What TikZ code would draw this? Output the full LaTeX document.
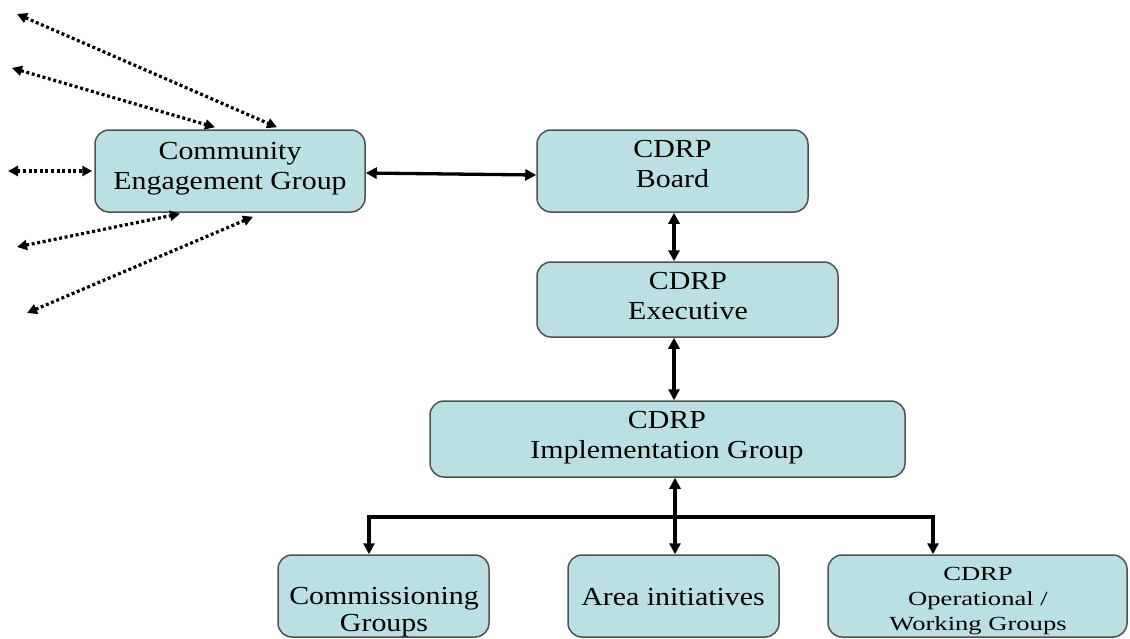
\documentclass[tikz,border=0pt]{standalone}
\usepackage{fontspec}
\usepackage{graphicx}
\setmainfont{Liberation Serif}
\usetikzlibrary{arrows.meta}
\definecolor{boxfill}{RGB}{186,224,228}
\definecolor{boxline}{RGB}{80,80,80}
\newcommand{\wid}[1]{\scalebox{1.15}[1]{#1}}
\newcommand{\widop}[1]{\scalebox{1.33}[1]{#1}}
\tikzset{
  box/.style={draw=boxline, line width=1.5pt, fill=boxfill, rounded corners=14pt, inner sep=0pt},
  lbl/.style={inner sep=0pt, align=center, anchor=north, font=\fontsize{26}{30}\selectfont},
  lblsmall/.style={inner sep=0pt, align=center, anchor=north, font=\fontsize{20}{25}\selectfont},
  conn/.style={line width=3.3pt, line join=miter, {Triangle[length=11pt,width=11pt]}-{Triangle[length=11pt,width=11pt]}},
  dots/.style={line width=3.2pt, dash pattern=on 3pt off 2.6pt, {Triangle[length=10pt,width=10pt]}-{Triangle[length=10pt,width=10pt]}}
}
\begin{document}
\begin{tikzpicture}[x=1pt,y=-1pt]
\clip (0,0) rectangle (1130,638);
% boxes
\node[box, minimum width=270pt, minimum height=82pt] (ceg) at (230,171) {};
\node[box, minimum width=271pt, minimum height=82pt] (board) at (672.5,171) {};
\node[box, minimum width=301pt, minimum height=75pt] (exec) at (687.5,299.5) {};
\node[box, minimum width=475pt, minimum height=76pt] (impl) at (667.5,439) {};
\node[box, minimum width=211pt, minimum height=82pt] (comm) at (383.5,596) {};
\node[box, minimum width=211pt, minimum height=82pt] (area) at (673.5,596) {};
\node[box, minimum width=299pt, minimum height=82pt] (oper) at (977.5,596) {};
% texts
\node[lbl] (ceg-t) at (230,142) {\wid{Community}\\\wid{Engagement Group}};
\node[lbl] (board-t) at (672.5,140) {\wid{CDRP}\\\wid{Board}};
\node[lbl] (exec-t) at (688,272) {\wid{CDRP}\\\wid{Executive}};
\node[lbl] (impl-t) at (667,411) {\wid{CDRP}\\\wid{Implementation Group}};
\node[lbl, font=\fontsize{26}{27}\selectfont] (comm-t) at (384,587) {\wid{Commissioning}\\\wid{Groups}};
\node[lbl] (area-t) at (673,588) {\wid{Area initiatives}};
\node[lblsmall] (oper-t) at (978,567) {\widop{CDRP}\\\widop{Operational /}\\\widop{Working Groups}};
% spine coordinates
\coordinate (spine) at (674,0);
\coordinate (spineb) at (675,0);
\coordinate (barL) at (369,517);
\coordinate (barR) at (933,517);
% solid connectors
\draw[conn] ([yshift=-2pt]ceg.east) -- ([yshift=-4pt]board.west);
\draw[conn] (board.south -| spine) -- (exec.north -| spine);
\draw[conn] (exec.south -| spine) -- (impl.north -| spine);
\draw[conn] (impl.south -| spineb) -- (area.north -| spineb);
\draw[conn] (comm.north -| barL) -- (barL) -- (barR) -- (oper.north -| barR);
% dotted connectors
\coordinate (d1) at (17,14);
\coordinate (d2) at (12,68);
\coordinate (d3) at (8,171);
\coordinate (d4) at (17,247);
\coordinate (d5) at (27,313);
\draw[dots] (d1) -- ([xshift=47pt,yshift=2pt]ceg.north);
\draw[dots] (d2) -- ([xshift=-15pt,yshift=2pt]ceg.north);
\draw[dots] (d3) -- ([xshift=-2pt]ceg.west);
\draw[dots] (d4) -- ([xshift=-50pt,yshift=-1pt]ceg.south);
\draw[dots] (d5) -- ([xshift=23pt,yshift=-4pt]ceg.south);
\end{tikzpicture}
\end{document}
